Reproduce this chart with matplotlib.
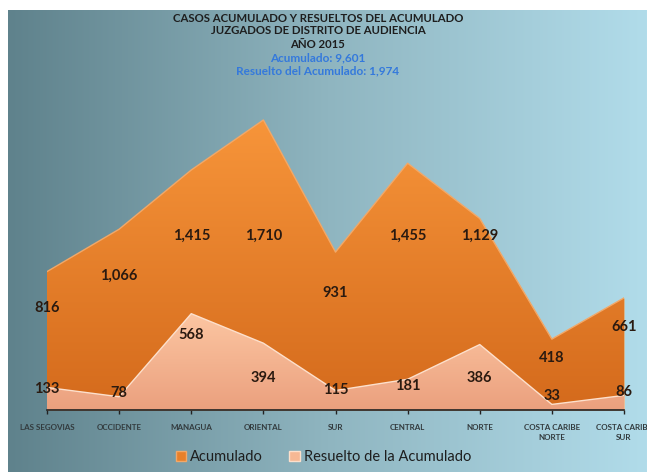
import numpy as np
import matplotlib
matplotlib.use("Agg")
import matplotlib.pyplot as plt
from matplotlib.colors import LinearSegmentedColormap
from matplotlib.patches import Patch

plt.rcParams['font.family'] = ['Lato', 'DejaVu Sans']

distritos = ["LAS SEGOVIAS", "OCCIDENTE", "MANAGUA", "ORIENTAL", "SUR",
             "CENTRAL", "NORTE", "COSTA CARIBE\nNORTE", "COSTA CARIBE\nSUR"]
acumulado = [816, 1066, 1415, 1710, 931, 1455, 1129, 418, 661]
resuelto = [133, 78, 568, 394, 115, 181, 386, 33, 86]

titulo = ["CASOS ACUMULADO Y RESUELTOS DEL ACUMULADO",
          "JUZGADOS DE DISTRITO DE AUDIENCIA",
          "AÑO 2015"]
subtitulo = ["Acumulado: 9,601", "Resuelto del Acumulado: 1,974"]

W, H = 647, 472
fig = plt.figure(figsize=(W / 100, H / 100), dpi=100)
fig.patch.set_facecolor("white")

# fondo degradado
bg = fig.add_axes([8 / W, 0, 1 - 8 / W, 1 - 10 / H])
bg_cmap = LinearSegmentedColormap.from_list("bg", ["#5f828c", "#8fb5c0", "#b1dcea"])
grad = np.linspace(0, 1, 256).reshape(1, -1)
bg.imshow(grad, cmap=bg_cmap, aspect="auto", extent=[0, 1, 0, 1])
bg.set_axis_off()

ymax = 1800
ax = fig.add_axes([47 / W, 62 / H, 577 / W, (1800 * 0.1696) / H])
ax.set_facecolor("none")
x = np.arange(len(distritos))


def area(vals, c_top, c_bot, edge, z):
    poly = ax.fill_between(x, 0, vals, color=c_top, lw=0, zorder=z)
    cmap = LinearSegmentedColormap.from_list("g", [c_bot, c_top])
    g = np.linspace(0, 1, 256).reshape(-1, 1)
    im = ax.imshow(g, cmap=cmap, origin="lower", aspect="auto",
                   extent=[0, len(vals) - 1, 0, max(vals)], zorder=z + 0.1)
    im.set_clip_path(poly.get_paths()[0], transform=ax.transData)
    ax.plot(x, vals, color=edge, lw=1.0, zorder=z + 0.2)


area(acumulado, "#f7953a", "#d46a1c", "#f2a868", 1)
area(resuelto, "#fcc6a2", "#eba07e", "#fde0cc", 2)

# etiquetas dentro del area, como las coloca Excel (aprox.)
for i, v in enumerate(acumulado):
    ly = 1030 if v > 1100 else 0.74 * v
    ax.text(i, ly, f"{v:,}", ha="center", va="center",
            fontsize=10.5, fontweight="bold", color="#2a1a10", zorder=5)
for i, v in enumerate(resuelto):
    ly = 0.78 * v if v > 500 else 0.4 * min(v, 300) + 70
    ax.text(i, ly, f"{v:,}", ha="center", va="center",
            fontsize=10.5, fontweight="bold", color="#2a1a10", zorder=5)

ax.set_xlim(0, len(distritos) - 1)
ax.set_ylim(0, ymax)
ax.set_xticks(x)
ax.set_xticklabels(distritos, fontsize=5.8, fontweight="bold", color="#333b3e",
                   linespacing=1.5)
ax.tick_params(axis="x", direction="out", length=3, width=1, color="#222222", pad=7)
ax.set_yticks([])
for s in ["top", "right", "left"]:
    ax.spines[s].set_visible(False)
ax.spines["bottom"].set_color("#222222")
ax.spines["bottom"].set_linewidth(1.2)
ax.spines["bottom"].set_zorder(6)

ys = [18, 31, 44]
for t, yy in zip(titulo, ys):
    fig.text(318 / W, 1 - yy / H, t, ha="center", va="center", fontsize=8.2,
             fontweight="bold", color="#1e1e1e")
for t, yy in zip(subtitulo, [58, 71]):
    fig.text(318 / W, 1 - yy / H, t, ha="center", va="center", fontsize=8.5,
             fontweight="bold", color="#3479dc")

handles = [Patch(facecolor="#e8802a", edgecolor="#f2a868", label="Acumulado"),
           Patch(facecolor="#f6b894", edgecolor="#fde0cc", label="Resuelto de la Acumulado")]
fig.legend(handles=handles, loc="center", bbox_to_anchor=(0.5, 15 / H), ncol=2,
           frameon=False, fontsize=10.5, handlelength=0.7, handleheight=0.7,
           handletextpad=0.3, columnspacing=1.8, labelcolor="#1e1e1e")

fig.savefig("out.png", dpi=100)
